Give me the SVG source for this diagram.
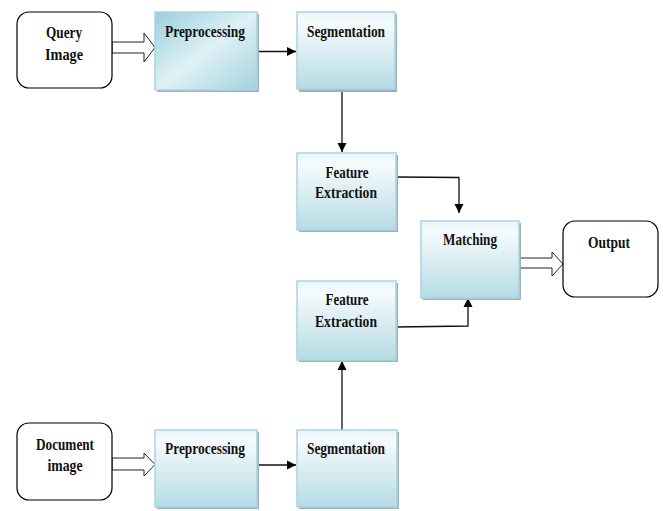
<svg xmlns="http://www.w3.org/2000/svg" width="663" height="511" viewBox="0 0 663 511">
<style>
.t{font-family:"Liberation Serif","Times New Roman",serif;font-weight:bold;font-size:16px;fill:#111;text-anchor:middle}
.box{fill:url(#gv);stroke:#a9d5e2;stroke-width:1.5}
.box2{fill:url(#gd);stroke:#a9d5e2;stroke-width:1.5}
.sh{fill:#9fb0b6}
.rb{fill:#fff;stroke:#000;stroke-width:1.2}
.ln{fill:none;stroke:#111;stroke-width:1.3}
.ho{fill:#fff;stroke:#222;stroke-width:1}
</style>
<defs>
<linearGradient id="gv" x1="0" y1="0" x2="0" y2="1">
<stop offset="0" stop-color="#e8f5f8"/>
<stop offset="0.15" stop-color="#f5fbfc"/>
<stop offset="1" stop-color="#b5dbe5"/>
</linearGradient>
<linearGradient id="gd" x1="0" y1="0" x2="1" y2="1">
<stop offset="0" stop-color="#9acfdc"/>
<stop offset="0.5" stop-color="#dff1f5"/>
<stop offset="1" stop-color="#a2d2de"/>
</linearGradient>
<marker id="ah" markerWidth="10" markerHeight="10" refX="9" refY="5" orient="auto" markerUnits="userSpaceOnUse">
<path d="M0,0.5 L9,5 L0,9.5 Z" fill="#000"/>
</marker>
</defs>
<g id="connectors">
<path class="ho" d="M112,42 L144,42 L144,33 L155,47.5 L144,62 L144,53 L112,53 Z"/>
<path class="ln" d="M257,51.5 L296,51.5" marker-end="url(#ah)"/>
<path class="ln" d="M342,90 L342,152" marker-end="url(#ah)"/>
<path class="ln" d="M396,177 L459,177.5 L459,213" marker-end="url(#ah)"/>
<path class="ln" d="M396,327 L468,326 L468,298" marker-end="url(#ah)"/>
<path class="ho" d="M519,258 L552,258 L552,252 L563,264 L552,276 L552,268 L519,268 Z"/>
<path class="ho" d="M112,458 L144,458 L144,453 L155,464.5 L144,476 L144,470 L112,470 Z"/>
<path class="ln" d="M257,465 L296,465" marker-end="url(#ah)"/>
<path class="ln" d="M342,430 L342,361" marker-end="url(#ah)"/>
</g>
<g id="query-image">
<rect class="rb" x="17" y="12" width="95" height="76" rx="12"/>
<text class="t" x="64" y="38" textLength="36" lengthAdjust="spacingAndGlyphs">Query</text>
<text class="t" x="64" y="60" textLength="38" lengthAdjust="spacingAndGlyphs">Image</text>
</g>
<g id="preprocessing-top">
<rect class="sh" x="157" y="14" width="102" height="78"/>
<rect class="box2" x="155" y="12" width="102" height="78"/>
<text class="t" x="205" y="37" textLength="80" lengthAdjust="spacingAndGlyphs">Preprocessing</text>
</g>
<g id="segmentation-top">
<rect class="sh" x="299" y="14" width="98" height="78"/>
<rect class="box" x="297" y="12" width="98" height="77"/>
<text class="t" x="346" y="37" textLength="78" lengthAdjust="spacingAndGlyphs">Segmentation</text>
</g>
<g id="feature-extraction-top">
<rect class="sh" x="299" y="155" width="99" height="77"/>
<rect class="box" x="297" y="153" width="99" height="77"/>
<text class="t" x="347" y="178" textLength="43" lengthAdjust="spacingAndGlyphs">Feature</text>
<text class="t" x="346" y="198" textLength="62" lengthAdjust="spacingAndGlyphs">Extraction</text>
</g>
<g id="matching">
<rect class="sh" x="423" y="223" width="98" height="77"/>
<rect class="box" x="421" y="221" width="98" height="77"/>
<text class="t" x="470" y="245" textLength="54" lengthAdjust="spacingAndGlyphs">Matching</text>
</g>
<g id="output">
<rect class="rb" x="563" y="221" width="95" height="76" rx="12"/>
<text class="t" x="609" y="248" textLength="42" lengthAdjust="spacingAndGlyphs">Output</text>
</g>
<g id="feature-extraction-bottom">
<rect class="sh" x="299" y="283" width="99" height="79"/>
<rect class="box" x="297" y="281" width="99" height="79"/>
<text class="t" x="347" y="305" textLength="43" lengthAdjust="spacingAndGlyphs">Feature</text>
<text class="t" x="346" y="327" textLength="62" lengthAdjust="spacingAndGlyphs">Extraction</text>
</g>
<g id="document-image">
<rect class="rb" x="17" y="423" width="95" height="77" rx="12"/>
<text class="t" x="65" y="450" textLength="58" lengthAdjust="spacingAndGlyphs">Document</text>
<text class="t" x="65" y="471" textLength="35" lengthAdjust="spacingAndGlyphs">image</text>
</g>
<g id="preprocessing-bottom">
<rect class="sh" x="157" y="432" width="102" height="77"/>
<rect class="box" x="155" y="430" width="102" height="77"/>
<text class="t" x="205" y="454" textLength="80" lengthAdjust="spacingAndGlyphs">Preprocessing</text>
</g>
<g id="segmentation-bottom">
<rect class="sh" x="299" y="432" width="100" height="77"/>
<rect class="box" x="297" y="430" width="100" height="77"/>
<text class="t" x="346" y="454" textLength="78" lengthAdjust="spacingAndGlyphs">Segmentation</text>
</g>
</svg>
